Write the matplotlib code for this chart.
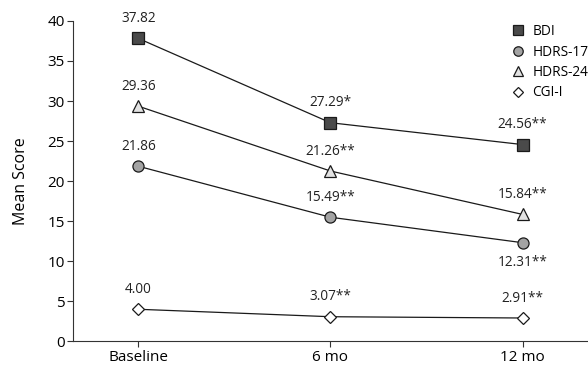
import matplotlib.pyplot as plt
from matplotlib.lines import Line2D

plt.rcParams['font.family'] = ['Open Sans', 'DejaVu Sans']

# Time points and mean scores
timepoints = ['Baseline', '6 mo', '12 mo']
bdi = [37.82, 27.29, 24.56]
hdrs17 = [21.86, 15.49, 12.31]
hdrs24 = [29.36, 21.26, 15.84]
cgi = [4.00, 3.07, 2.91]

bdi_labels = ['37.82', '27.29*', '24.56**']
hdrs17_labels = ['21.86', '15.49**', '12.31**']
hdrs24_labels = ['29.36', '21.26**', '15.84**']
cgi_labels = ['4.00', '3.07**', '2.91**']

fig, ax = plt.subplots(figsize=(5.88, 3.67), dpi=100)
fig.subplots_adjust(left=0.124, right=1.0, top=0.943, bottom=0.07)

x = range(len(timepoints))
series = [
    (bdi, bdi_labels, 's', '#4a4a4a', 'BDI'),
    (hdrs17, hdrs17_labels, 'o', '#a3a3a3', 'HDRS-17'),
    (hdrs24, hdrs24_labels, '^', '#e2e2e2', 'HDRS-24'),
    (cgi, cgi_labels, 'D', 'white', 'CGI-I'),
]
handles = []
for vals, labs, mk, fc, name in series:
    ms = 6.5 if mk == 'D' else 8
    ax.plot(x, vals, color='#1a1a1a', lw=0.9, marker=mk, markersize=ms,
            markerfacecolor=fc, markeredgecolor='#1a1a1a', markeredgewidth=0.9)
    handles.append(Line2D([], [], ls='none', marker=mk, markersize=ms * 0.85,
                          markerfacecolor=fc, markeredgecolor='#1a1a1a',
                          markeredgewidth=0.9, label=name))
    for xi, v, t in zip(x, vals, labs):
        if t.startswith('12.31'):
            ax.annotate(t, (xi, v), xytext=(0, -9), textcoords='offset points',
                        ha='center', va='top', fontsize=9.8, color='#222222')
        else:
            ax.annotate(t, (xi, v), xytext=(0, 9), textcoords='offset points',
                        ha='center', va='bottom', fontsize=9.8, color='#222222')

ax.set_xlim(-0.34, 2.34)
ax.set_ylim(0, 40)
ax.set_yticks(range(0, 41, 5))
ax.set_xticks(list(x))
ax.set_xticklabels(timepoints)
ax.set_ylabel('Mean Score', fontsize=11.5, labelpad=13)
ax.tick_params(labelsize=11, length=4, color='#333333', pad=2)
for s in ['top', 'right']:
    ax.spines[s].set_visible(False)
for s in ['left', 'bottom']:
    ax.spines[s].set_color('#333333')

ax.legend(handles=handles, loc='upper left', bbox_to_anchor=(0.86, 0.949),
          bbox_transform=fig.transFigure, frameon=False, fontsize=9.8,
          handlelength=1.0, handletextpad=0.55, labelspacing=0.4, borderaxespad=0)

plt.savefig('out.png')
